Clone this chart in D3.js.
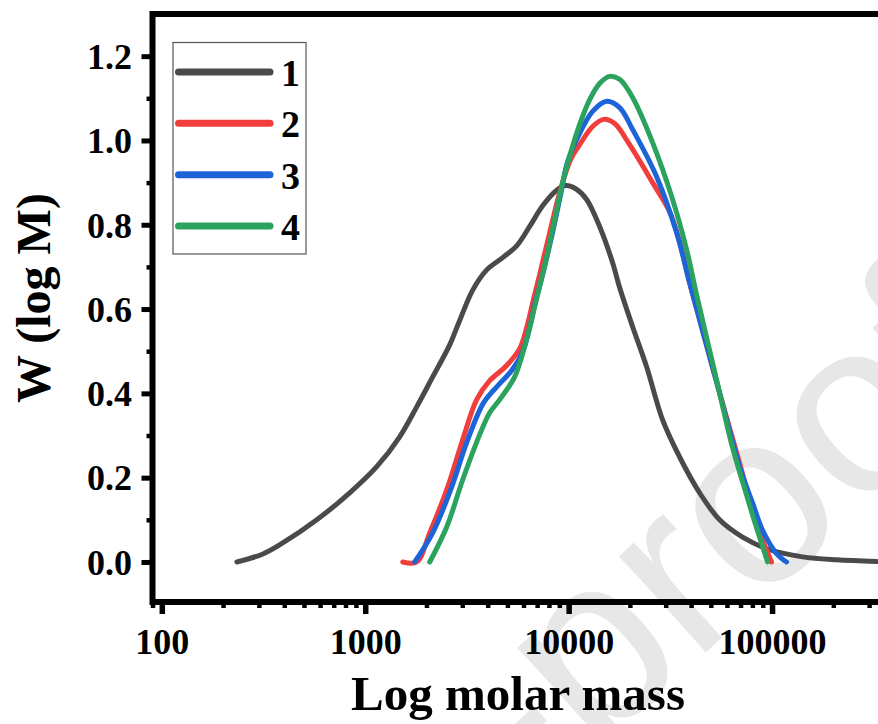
<!DOCTYPE html>
<html><head><meta charset="utf-8">
<script src="https://cdn.jsdelivr.net/npm/d3@7"></script>
<style>
html,body{margin:0;padding:0;background:#fff;}
svg{display:block;}
.serif{font-family:"Liberation Serif","Times New Roman",serif;font-weight:bold;}
</style></head><body>
<svg id="chart" width="878" height="724"></svg>
<script>
// ---------- data ----------
const seriesNames = ["1", "2", "3", "4"];
const seriesColors = ["#4a4a4a", "#f23d3d", "#1c64d8", "#2ba35e"];

const mass1 = [234,314,393,578,839,1139,1477,1791,2146,2602,2913,3376,3955,4740,5553,6434,7450,8730,9667,10950,12260,14200,16450,17810,20630,24170,28970,35120,44040,55210,71610,97210,141200,207500,326300];
const w1 = [0.000,0.019,0.045,0.100,0.164,0.226,0.297,0.368,0.439,0.515,0.573,0.645,0.693,0.722,0.750,0.796,0.845,0.882,0.893,0.884,0.860,0.796,0.710,0.651,0.558,0.463,0.337,0.249,0.164,0.100,0.059,0.029,0.012,0.005,0.001];

const mass2 = [1529,1791,2075,2515,3014,3531,4091,4958,5743,6219,6655,7203,8066,9032,10230,11330,13120,14860,16830,19940,25870,31350,35120,39300,44040,55210,69230,80200,89830,99430];
const w2 = [0,0,0.069,0.171,0.290,0.385,0.430,0.466,0.506,0.556,0.615,0.682,0.781,0.876,0.955,0.990,1.033,1.050,1.040,0.990,0.900,0.831,0.760,0.663,0.575,0.401,0.235,0.120,0.052,0];

const mass3 = [1751,2146,2662,3153,3821,4581,5248,5943,6434,6807,7450,8252,9134,9888,11330,13120,15370,17810,20630,27070,33950,39300,44040,55210,69230,80200,89830,105200,117800];
const w3 = [0,0.069,0.178,0.283,0.378,0.423,0.454,0.499,0.556,0.610,0.682,0.772,0.872,0.950,1.017,1.069,1.093,1.078,1.026,0.914,0.781,0.663,0.575,0.401,0.226,0.140,0.075,0.020,0];

const mass4 = [2075,2515,3014,3653,4091,4581,5427,6148,6885,7709,8634,9556,11330,12690,14200,15900,17810,20630,25870,32440,38010,42560,53370,63960,74930,83910,95030];
const w4 = [0,0.083,0.195,0.302,0.354,0.385,0.439,0.520,0.615,0.713,0.824,0.919,1.038,1.097,1.135,1.152,1.145,1.102,0.995,0.860,0.741,0.634,0.432,0.271,0.159,0.081,0];

const xMajorTicks = [100, 1000, 10000, 100000];
const xMinorTicks = [90,200,300,400,500,600,700,800,900,2000,3000,4000,5000,6000,7000,8000,9000,20000,30000,40000,50000,60000,70000,80000,90000,200000,300000];
const yMajorTicks = [0, 0.2, 0.4, 0.6, 0.8, 1.0, 1.2];
const yMinorTicks = [0.1, 0.3, 0.5, 0.7, 0.9, 1.1];
const xTitle = "Log molar mass";
const yTitle = "W (log M)";
const watermarkText = "Journal Pre-proof";

// ---------- layout ----------
const svg = d3.select("#chart");
const L = 152.5, R = 890, T = 14, B = 602;
const x = d3.scaleLog().domain([90, 380000]).range([L, R]);
const y = d3.scaleLinear().domain([-0.095, 1.30]).range([B, T]);

// watermark
const wmSize = 245;
const wm = svg.append("text")
  .attr("font-family", "'Liberation Sans', Arial, sans-serif")
  .attr("font-size", wmSize)
  .attr("fill", "#e7e7e7")
  .text(watermarkText);
{
  const idx = watermarkText.indexOf("proof") + 2;
  const ext = wm.node().getExtentOfChar(idx);
  const cx = ext.x + ext.width / 2, cy = -0.26 * wmSize;
  wm.attr("transform", `translate(762,516) rotate(-42) translate(${-cx},${-cy})`);
}

// curves
const series = [
  {name: seriesNames[0], color: seriesColors[0], pts: d3.zip(mass1, w1)},
  {name: seriesNames[1], color: seriesColors[1], pts: d3.zip(mass2, w2)},
  {name: seriesNames[2], color: seriesColors[2], pts: d3.zip(mass3, w3)},
  {name: seriesNames[3], color: seriesColors[3], pts: d3.zip(mass4, w4)}
];
svg.append("clipPath").attr("id", "clip").append("rect")
  .attr("x", L).attr("y", T).attr("width", R - L).attr("height", B - T);
const line = d3.line().x(d => x(d[0])).y(d => y(d[1])).curve(d3.curveCatmullRom.alpha(0.5));
svg.append("g").attr("clip-path", "url(#clip)")
  .selectAll("path").data(series).join("path")
  .attr("d", d => line(d.pts))
  .attr("fill", "none")
  .attr("stroke", d => d.color)
  .attr("stroke-width", 5)
  .attr("stroke-linecap", "round")
  .attr("stroke-linejoin", "round");

// axes
function styleAxis(g, w) {
  g.select(".domain").remove();
  g.selectAll(".tick line").attr("stroke", "#000").attr("stroke-width", w);
}
svg.append("g").attr("transform", `translate(${L},0)`)
  .call(d3.axisLeft(y).tickValues(yMinorTicks).tickSize(6).tickFormat(""))
  .call(g => styleAxis(g, 4.5));
svg.append("g").attr("transform", `translate(${L},0)`)
  .call(d3.axisLeft(y).tickValues(yMajorTicks).tickSize(11).tickFormat(d3.format(".1f")))
  .call(g => styleAxis(g, 5))
  .call(g => g.selectAll("text").attr("class", "serif").attr("font-size", 36)
      .attr("fill", "#000").attr("x", -20.5).attr("dy", "0.34em"));

svg.append("g").attr("transform", `translate(0,${B})`)
  .call(d3.axisBottom(x).tickValues(xMinorTicks).tickSize(6).tickFormat(""))
  .call(g => styleAxis(g, 4.5));
svg.append("g").attr("transform", `translate(0,${B})`)
  .call(d3.axisBottom(x).tickValues(xMajorTicks).tickSize(12).tickFormat(d3.format("d")))
  .call(g => styleAxis(g, 5.5))
  .call(g => g.selectAll("text").attr("class", "serif").attr("font-size", 36)
      .attr("fill", "#000").attr("y", 52).attr("dy", null));

// frame
svg.append("rect").attr("x", L).attr("y", T).attr("width", R - L).attr("height", B - T)
  .attr("fill", "none").attr("stroke", "#000").attr("stroke-width", 6);

// titles
svg.append("text").attr("class", "serif").attr("font-size", 49)
  .attr("x", 518).attr("y", 710).attr("text-anchor", "middle").text(xTitle);
svg.append("text").attr("class", "serif").attr("font-size", 48)
  .attr("transform", "translate(50,298) rotate(-90)").attr("text-anchor", "middle").text(yTitle);

// legend
const lg = svg.append("g");
lg.append("rect").attr("x", 173).attr("y", 42.5).attr("width", 133).attr("height", 211.5)
  .attr("fill", "#fff").attr("stroke", "#555").attr("stroke-width", 1.2);
const legY = d3.scalePoint().domain(seriesNames).range([72, 226]);
const items = lg.selectAll("g.item").data(series).join("g").attr("class", "item");
items.append("line").attr("x1", 178.5).attr("x2", 270)
  .attr("y1", d => legY(d.name)).attr("y2", d => legY(d.name))
  .attr("stroke", d => d.color).attr("stroke-width", 7).attr("stroke-linecap", "round");
items.append("text").attr("class", "serif").attr("font-size", 38)
  .attr("x", 281).attr("y", d => legY(d.name) + 14).text(d => d.name);
</script>
</body></html>
